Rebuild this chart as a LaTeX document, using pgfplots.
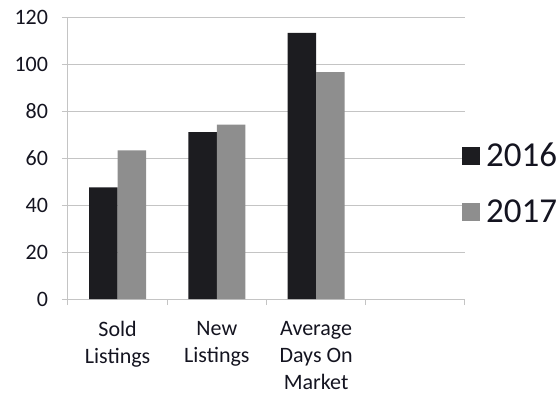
\documentclass[border=0pt]{standalone}
\usepackage{fontspec}
\setmainfont{Carlito}
\usepackage{pgfplots}
\pgfplotsset{compat=1.18}
\definecolor{cA}{HTML}{1C1C20}
\definecolor{cB}{HTML}{8E8E8E}
\definecolor{gridc}{HTML}{C4C4C4}
\definecolor{txt}{HTML}{141420}
\begin{document}
\begin{tikzpicture}
\useasboundingbox (-68pt,-95pt) rectangle (492pt,299pt);
\begin{axis}[
  at={(0,0)}, anchor=south west,
  scale only axis, width=397pt, height=282pt,
  ybar=0pt, bar width=28.5pt,
  xmin=-0.5, xmax=3.5, ymin=0, ymax=120,
  ytick={0,20,...,120},
  xtick={-0.5,0.5,1.5,2.5,3.5}, xticklabels={},
  extra x ticks={0,1,2},
  extra x tick labels={Sold\\Listings, New\\Listings, Average\\Days On\\Market},
  extra x tick style={major tick length=0pt, grid=none},
  ymajorgrids, grid style={gridc, line width=1pt},
  axis x line*=bottom, axis y line*=left,
  axis line style={gridc, line width=1pt},
  tick align=outside, major tick length=6pt,
  tick style={gridc, line width=1pt},
  /pgf/number format/assume math mode=true,
  yticklabel style={font=\fontsize{22}{26}\selectfont, text=txt, xshift=-10.5pt},
  xticklabel style={font=\fontsize{22}{27}\selectfont, text=txt, align=center, yshift=-19pt},
  legend style={at={(0.985,0.409)}, anchor=west, draw=none, fill=none,
    font=\fontsize{35}{42}\selectfont, text=txt, row sep=28pt},
  legend image code/.code={\fill[#1] (0pt,-9pt) rectangle (18pt,9pt); \path (22pt,0pt);},
  legend cell align=left,
]
\addplot[fill=cA, draw=none] coordinates {(0,47.5) (1,71) (2,113.2)};
\addplot[fill=cB, draw=none] coordinates {(0,63.2) (1,74.2) (2,96.5)};
\legend{2016,2017}
\end{axis}
\end{tikzpicture}
\end{document}
